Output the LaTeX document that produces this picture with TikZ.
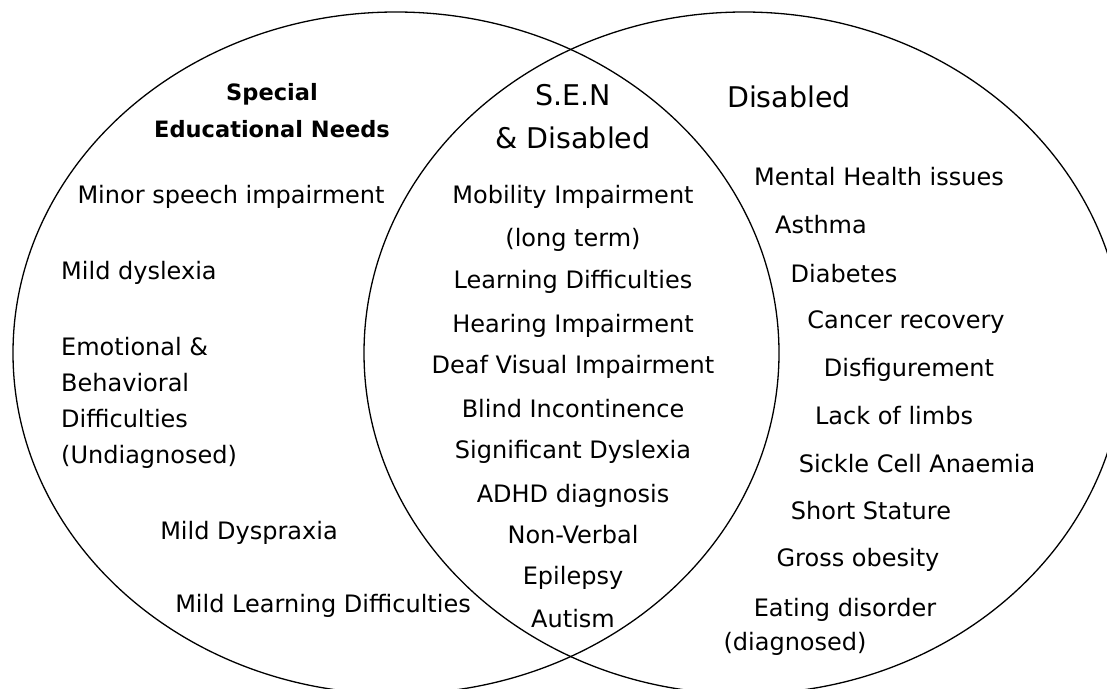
\documentclass[tikz,border=0pt]{standalone}
\usepackage{fontspec}
\setmainfont{DejaVu Sans}
\begin{document}
\begin{tikzpicture}[x=1pt,y=-1pt,
  item/.style={anchor=base west, inner sep=0pt, font=\fontsize{24}{29}\selectfont},
  mid/.style={anchor=base, inner sep=0pt, font=\fontsize{24}{29}\selectfont},
  head/.style={anchor=base, inner sep=0pt, font=\fontsize{28.5}{34}\selectfont},
  bhead/.style={anchor=base, inner sep=0pt, font=\bfseries\fontsize{22.5}{27}\selectfont},
  venn/.style={draw=black, line width=1.3pt}]
\fill[white] (0,0) rectangle (1107,688);
\useasboundingbox (0,0) rectangle (1107,688);
\clip (0,0) rectangle (1107,688);
% circles
\draw[venn] (396,353) ellipse [x radius=383, y radius=341];
\draw[venn] (744,353) ellipse [x radius=380, y radius=341];
% left: Special Educational Needs
\node[bhead] (senA) at (272,100) {Special};
\node[bhead] (senB) at (272,137) {Educational Needs};
\node[mid] (l1) at (231,203) {Minor speech impairment};
\node[item] (l2) at (61,279) {Mild dyslexia};
\node[item] (l3) at (61,355) {Emotional \&};
\node[item] (l4) at (61,391) {Behavioral};
\node[item] (l5) at (61,427) {Difficulties};
\node[item] (l6) at (61,463) {(Undiagnosed)};
\node[mid] (l7) at (249,539) {Mild Dyspraxia};
\node[mid] (l8) at (323,612) {Mild Learning Difficulties};
% middle: S.E.N & Disabled
\node[head] (bothA) at (573,105) {S.E.N};
\node[head] (bothB) at (573,148) {\& Disabled};
\node[mid] (m1) at (573,203) {Mobility Impairment};
\node[mid] (m2) at (573,246) {(long term)};
\node[mid] (m3) at (573,288) {Learning Difficulties};
\node[mid] (m4) at (573,332) {Hearing Impairment};
\node[mid] (m5) at (573,373) {Deaf Visual Impairment};
\node[mid] (m6) at (573,417) {Blind Incontinence};
\node[mid] (m7) at (573,458) {Significant Dyslexia};
\node[mid] (m8) at (573,502) {ADHD diagnosis};
\node[mid] (m9) at (573,543) {Non-Verbal};
\node[mid] (m10) at (573,584) {Epilepsy};
\node[mid] (m11) at (573,627) {Autism};
% right: Disabled
\node[head] (dis) at (789,107) {Disabled};
\node[mid] (r1) at (879,185) {Mental Health issues};
\node[mid] (r2) at (821,233) {Asthma};
\node[mid] (r3) at (844,282) {Diabetes};
\node[mid] (r4) at (906,328) {Cancer recovery};
\node[mid] (r5) at (909,376) {Disfigurement};
\node[mid] (r6) at (894,424) {Lack of limbs};
\node[mid] (r7) at (917,472) {Sickle Cell Anaemia};
\node[mid] (r8) at (871,519) {Short Stature};
\node[mid] (r9) at (858,566) {Gross obesity};
\node[mid] (r10) at (845,616) {Eating disorder};
\node[mid] (r11) at (795,650) {(diagnosed)};
\end{tikzpicture}
\end{document}
